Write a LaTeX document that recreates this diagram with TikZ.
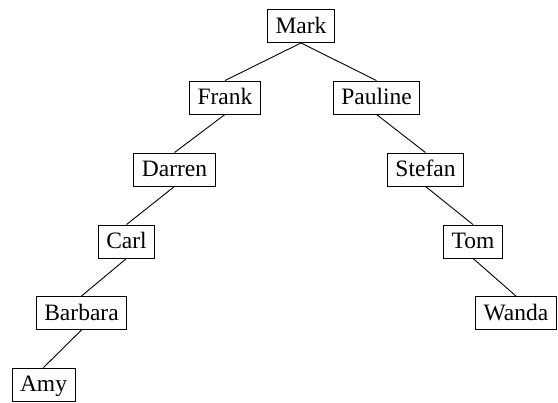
\documentclass[tikz,border=0pt]{standalone}
\usepackage{fontspec}
\setmainfont{Liberation Serif}
\begin{document}
\begin{tikzpicture}[x=1pt,y=-1pt,
  person/.style={draw,line width=0.9pt,font=\fontsize{23.5}{26}\selectfont,
    inner xsep=8pt,inner ysep=6pt,text height=18pt,text depth=3pt},
  link/.style={draw,line width=0.9pt}]
\useasboundingbox (0,0) rectangle (558,403);
\node[person] (mark) at (301,26) {Mark};
\node[person] (frank) at (225,97.5) {Frank};
\node[person] (pauline) at (376.5,97.5) {Pauline};
\node[person] (darren) at (174.5,169.5) {Darren};
\node[person] (stefan) at (425.5,169.5) {Stefan};
\node[person] (carl) at (126.5,241.5) {Carl};
\node[person] (tom) at (473,241.5) {Tom};
\node[person] (barbara) at (81.5,313) {Barbara};
\node[person] (wanda) at (516,313) {Wanda};
\node[person] (amy) at (43.5,384.5) {Amy};
\path[link] (mark.south) -- (frank.north);
\path[link] (mark.south) -- (pauline.north);
\path[link] (frank.south) -- (darren.north);
\path[link] (darren.south) -- (carl.north);
\path[link] (carl.south) -- (barbara.north);
\path[link] (barbara.south) -- (amy.north);
\path[link] (pauline.south) -- (stefan.north);
\path[link] (stefan.south) -- (tom.north);
\path[link] (tom.south) -- (wanda.north);
\end{tikzpicture}
\end{document}
